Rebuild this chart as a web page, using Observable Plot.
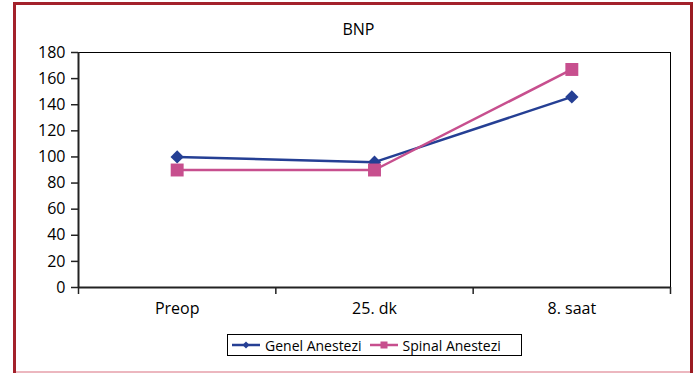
<!DOCTYPE html>
<html>
<head>
<meta charset="utf-8">
<script src="https://cdn.jsdelivr.net/npm/d3@7"></script>
<script src="https://cdn.jsdelivr.net/npm/@observablehq/plot@0.6"></script>
<style>
  html, body { margin: 0; padding: 0; background: #fff; }
  #wrap { position: relative; width: 696px; height: 373px; overflow: hidden; font-family: "Open Sans", sans-serif; }
  #border { position: absolute; left: 13px; top: 2px; width: 674px; height: 371px; border-left: 3px solid #a3212b; border-top: 3px solid #a3212b; border-right: 3px solid #9b1b22; box-sizing: content-box; }
  #bottomline { position: absolute; left: 16px; top: 371px; width: 674px; height: 2px; background: #ecb7bf; }
  #title { position: absolute; left: 0; width: 717px; top: 18px; text-align: center; font-size: 16px; color: #000; }
  #legend { position: absolute; left: 227px; top: 334px; width: 295px; height: 22px; border: 1px solid #000; display: flex; align-items: center; font-size: 14px; color: #000; box-sizing: border-box; padding-left: 4px; }
  .item { display: flex; align-items: center; margin-right: 8px; }
  .item svg { margin-right: 5px; }
  #chart { position: absolute; left: 0; top: 0; }
</style>
</head>
<body>
<div id="wrap">
  <div id="chart"></div>
  <div id="border"></div>
  <div id="bottomline"></div>
  <div id="title">BNP</div>
  <div id="legend"></div>
</div>
<script>
const categories = ["Preop", "25. dk", "8. saat"];
const seriesNames = ["Genel Anestezi", "Spinal Anestezi"];
const genel = [100, 96, 146];
const spinal = [90, 90, 167];
const yTicks = [0, 20, 40, 60, 80, 100, 120, 140, 160, 180];
const colors = ["#253f94", "#c74f8e"];
const symbols = ["diamond2", "square"];

const data = [];
[genel, spinal].forEach((vals, s) => {
  vals.forEach((v, i) => data.push({series: seriesNames[s], cat: categories[i], idx: i + 0.5, value: v}));
});

const chart = Plot.plot({
  width: 696,
  height: 373,
  marginLeft: 78,
  marginRight: 26,
  marginTop: 52,
  marginBottom: 86,
  style: {fontFamily: "'Open Sans', sans-serif", fontSize: "16px", color: "#000", background: "transparent"},
  x: {domain: [0, categories.length], axis: null},
  y: {domain: [0, 180], axis: null},
  color: {domain: seriesNames, range: colors},
  symbol: {domain: seriesNames, range: symbols},
  marks: [
    Plot.frame({stroke: "#000", strokeWidth: 1}),
    Plot.axisY(yTicks, {tickSize: 7, tickPadding: 6, tickFormat: d => d, fontSize: 16, label: null, stroke: "#222", strokeWidth: 1.5}),
    Plot.axisX(d3.range(categories.length + 1), {tickSize: 7, tickFormat: () => "", label: null, stroke: "#222", strokeWidth: 1.5}),
    Plot.axisX(categories.map((c, i) => i + 0.5), {tickSize: 0, tickPadding: 15, tickFormat: (d) => categories[Math.floor(d)], fontSize: 16, label: null}),
    Plot.ruleY([0], {stroke: "#222", strokeWidth: 2}),
    Plot.ruleX([0], {stroke: "#222", strokeWidth: 2}),
    Plot.line(data, {x: "idx", y: "value", z: "series", stroke: "series", strokeWidth: 2.5}),
    Plot.dot(data.filter(d => d.series === seriesNames[0]), {x: "idx", y: "value", symbol: "series", fill: "series", r: 6}),
    Plot.dot(data.filter(d => d.series === seriesNames[1]), {x: "idx", y: "value", symbol: "series", fill: "series", r: 7.3})
  ]
});
document.getElementById("chart").appendChild(chart);

const legend = document.getElementById("legend");
seriesNames.forEach((name, i) => {
  const item = document.createElement("div");
  item.className = "item";
  const shape = i === 0
    ? `<polygon points="14,2.5 17.5,6 14,9.5 10.5,6" fill="${colors[i]}"/>`
    : `<rect x="10.5" y="2.5" width="7" height="7" fill="${colors[i]}"/>`;
  item.innerHTML = `<svg width="28" height="12"><line x1="0" x2="28" y1="6" y2="6" stroke="${colors[i]}" stroke-width="2.5"/>${shape}</svg><span>${name}</span>`;
  legend.appendChild(item);
});
</script>
</body>
</html>
